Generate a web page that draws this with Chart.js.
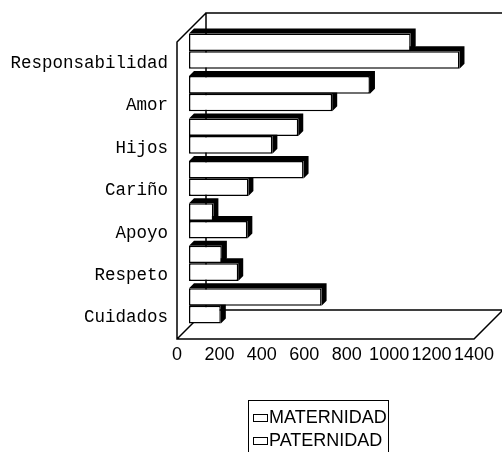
<!DOCTYPE html>
<html>
<head>
<meta charset="utf-8">
<script src="https://cdn.jsdelivr.net/npm/chart.js@4.4.0/dist/chart.umd.min.js"></script>
<style>
  html, body { margin: 0; padding: 0; background: #fff; }
  #wrap { position: relative; width: 502px; height: 452px; overflow: hidden; }
  #legend {
    position: absolute; left: 248px; top: 400px; width: 141px; height: 70px;
    border: 1.5px solid #000; box-sizing: border-box; padding-top: 5px;
    font: 18px "Liberation Sans", Arial, sans-serif; color: #000;
  }
  #legend .row { display: flex; align-items: center; height: 23px; }
  #legend .mark {
    width: 15px; height: 8px; border: 1.5px solid #000; box-sizing: border-box;
    background: #fff; margin-left: 4px; margin-right: 1px; flex: none;
  }
</style>
</head>
<body>
<div id="wrap">
  <canvas id="c" width="502" height="452"></canvas>
  <div id="legend"></div>
</div>
<script>
// Categories (top to bottom) and the two series
const categorias = ['Responsabilidad', 'Amor', 'Hijos', 'Cariño', 'Apoyo', 'Respeto', 'Cuidados'];
const maternidad = [1045, 853, 515, 540, 115, 155, 625];
const paternidad = [1275, 675, 393, 280, 275, 232, 150];
const ticksX = [0, 200, 400, 600, 800, 1000, 1200, 1400];
const nombres = ['MATERNIDAD', 'PATERNIDAD'];

// Oblique 3D projection parameters
const DEPTH = 29;   // depth of the box (back wall offset)
const SHIFT = 12;   // depth at which the bars sit
const EXTR = 5;     // bar thickness in depth

const box3d = {
  id: 'box3d',
  beforeDatasetsDraw(chart) {
    const { ctx, chartArea: { left, right, top, bottom } } = chart;
    ctx.save();
    ctx.strokeStyle = '#000';
    ctx.lineWidth = 1.5;
    ctx.lineJoin = 'miter';
    ctx.beginPath();
    // back wall
    ctx.moveTo(left + DEPTH, bottom - DEPTH);
    ctx.lineTo(left + DEPTH, top - DEPTH);
    ctx.lineTo(right + DEPTH, top - DEPTH);
    ctx.lineTo(right + DEPTH, bottom - DEPTH);
    ctx.lineTo(left + DEPTH, bottom - DEPTH);
    // left wall and floor
    ctx.moveTo(left + DEPTH, top - DEPTH);
    ctx.lineTo(left, top);
    ctx.lineTo(left, bottom);
    ctx.lineTo(right, bottom);
    ctx.lineTo(right + DEPTH, bottom - DEPTH);
    ctx.moveTo(left, bottom);
    ctx.lineTo(left + DEPTH, bottom - DEPTH);
    ctx.stroke();

    // top and side faces of every bar
    ctx.translate(SHIFT, -SHIFT);
    ctx.fillStyle = '#000';
    chart.data.datasets.forEach((ds, i) => {
      chart.getDatasetMeta(i).data.forEach(el => {
        const { x, y, base, height } = el.getProps(['x', 'y', 'base', 'height'], true);
        const l = Math.min(base, x), r = Math.max(base, x);
        const t = y - height / 2, b = y + height / 2;
        ctx.beginPath();
        ctx.moveTo(l, t);
        ctx.lineTo(l + EXTR, t - EXTR);
        ctx.lineTo(r + EXTR, t - EXTR);
        ctx.lineTo(r + EXTR, b - EXTR);
        ctx.lineTo(r, b);
        ctx.lineTo(r, t);
        ctx.closePath();
        ctx.fill();
      });
    });
    ctx.restore();
    // front faces are drawn at the same depth
    ctx.save();
    ctx.translate(SHIFT, -SHIFT);
  },
  afterDatasetsDraw(chart) {
    chart.ctx.restore();
  }
};

const barStyle = {
  backgroundColor: '#fff',
  borderColor: '#000',
  borderWidth: 1.5,
  borderSkipped: false,
  clip: false,
  categoryPercentage: 0.83,
  barPercentage: 1.0
};

const chart = new Chart(document.getElementById('c'), {
  type: 'bar',
  data: {
    labels: categorias,
    datasets: [
      Object.assign({ label: nombres[0], data: maternidad }, barStyle),
      Object.assign({ label: nombres[1], data: paternidad }, barStyle)
    ]
  },
  options: {
    indexAxis: 'y',
    responsive: false,
    animation: false,
    events: [],
    layout: { padding: { left: 0, top: 42, right: 28, bottom: 83 } },
    scales: {
      y: {
        grid: { display: false, drawTicks: false },
        border: { display: false },
        ticks: {
          color: '#000',
          padding: 9,
          font: { family: '"Courier New", "Liberation Mono", monospace', size: 17.5 }
        },
        afterFit(s) { s.width = 177; }
      },
      x: {
        min: 0, max: 1400,
        grid: { display: false, drawTicks: false },
        border: { display: false },
        ticks: {
          color: '#000',
          autoSkip: false,
          maxRotation: 0,
          padding: 5,
          font: { family: '"Liberation Sans", Arial, sans-serif', size: 18 },
          callback: v => String(v)
        },
        afterBuildTicks(s) { s.ticks = ticksX.map(v => ({ value: v })); },
        afterFit(s) { s.height = 30; }
      }
    },
    plugins: { legend: { display: false }, tooltip: { enabled: false } }
  },
  plugins: [box3d]
});

// Boxed legend built from the dataset labels
const legend = document.getElementById('legend');
chart.data.datasets.forEach(ds => {
  const row = document.createElement('div');
  row.className = 'row';
  const mark = document.createElement('span');
  mark.className = 'mark';
  const txt = document.createElement('span');
  txt.textContent = ds.label;
  row.appendChild(mark);
  row.appendChild(txt);
  legend.appendChild(row);
});
</script>
</body>
</html>
